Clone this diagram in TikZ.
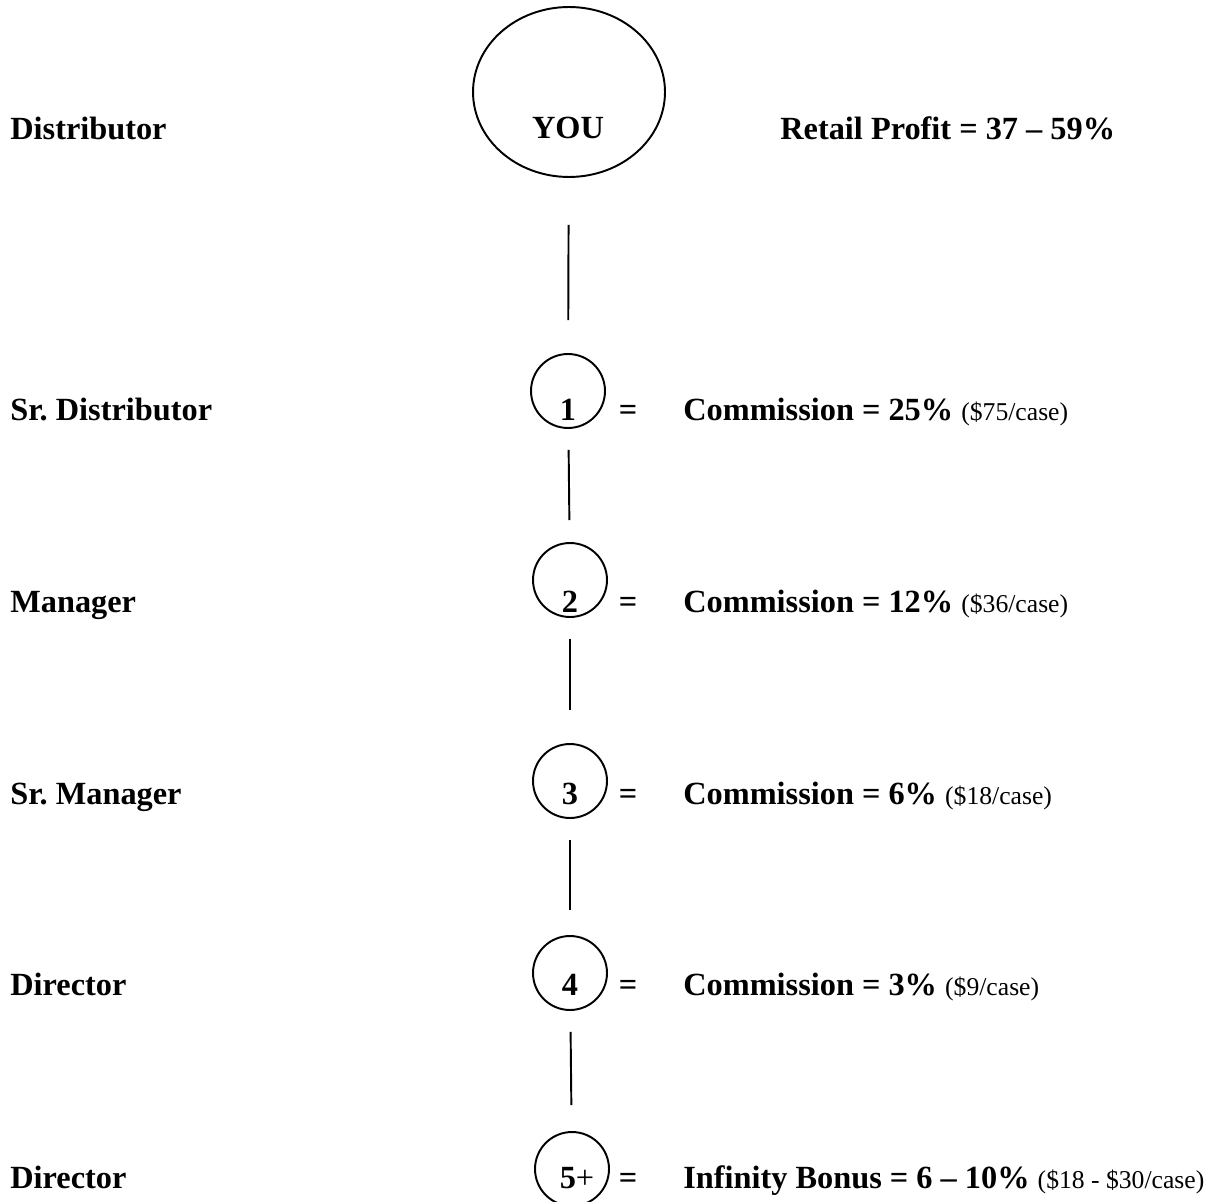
\documentclass[tikz,border=0pt]{standalone}
\usepackage{fontspec}
\setmainfont{Liberation Serif}
\usetikzlibrary{shapes.geometric}
\begin{document}
\frenchspacing
\begin{tikzpicture}[x=0.02cm,y=-0.02cm,
  ring/.style={circle,draw,line width=1.1pt,minimum size=1.48cm,inner sep=0pt},
  big/.style={inner sep=0pt,font=\fontsize{18.4}{22}\selectfont\bfseries},
  rank/.style={big,anchor=base west},
  link/.style={line width=1.1pt,shorten <=0.42cm,shorten >=0.44cm}]
\useasboundingbox (0,0) rectangle (1216,1202);
\newcommand{\case}[1]{{\fontsize{14.6}{17}\selectfont\mdseries(#1)}}
\coordinate (Y) at (569,92);
\coordinate (C1) at (568,391);
\coordinate (C2) at (570,580);
\coordinate (C3) at (570,781);
\coordinate (C4) at (570,973);
\coordinate (C5) at (572,1169);

 \node[ellipse,draw,line width=1.1pt,minimum width=3.84cm,minimum height=3.4cm] (you) at (Y) {};
 \node[ring] (c1) at (C1) {};
 \node[ring] (c2) at (C2) {};
 \node[ring] (c3) at (C3) {};
 \node[ring] (c4) at (C4) {};
 \node[ring] (c5) at (C5) {};

 \node[big,anchor=base] (tyou) at (568,139) {YOU};
 \node[big,anchor=base] (t1) at (568,420) {1};
 \node[big,anchor=base] (t2) at (570,612) {2};
 \node[big,anchor=base] (t3) at (570,804) {3};
 \node[big,anchor=base] (t4) at (570,995) {4};
 \node[big,anchor=base] (t5) at (577,1188) {5\mdseries+};

 \draw[link,shorten <=0.94cm,shorten >=0.66cm] (you) -- (c1);
 \draw[link] (c1) -- (c2);
 \draw[link,shorten >=0.66cm] (c2) -- (c3);
 \draw[link,shorten >=0.5cm] (c3) -- (c4);
 \draw[link,shorten >=0.52cm] (c4) -- (c5);

 \node[rank] (r0) at (10,140) {Distributor};
 \node[rank] (r1) at (10,420) {Sr. Distributor};
 \node[rank] (r2) at (10,612) {Manager};
 \node[rank] (r3) at (10,804) {Sr. Manager};
 \node[rank] (r4) at (10,995) {Director};
 \node[rank] (r5) at (10,1188) {Director};

 \node[rank] (p0) at (780,140) {Retail Profit = 37 -- 59\%};
 \node[big,anchor=base] (e1) at (628,420) {=};
 \node[big,anchor=base] (e2) at (628,612) {=};
 \node[big,anchor=base] (e3) at (628,804) {=};
 \node[big,anchor=base] (e4) at (628,995) {=};
 \node[big,anchor=base] (e5) at (628,1188) {=};
 \node[rank] (p1) at (683,420) {Commission = 25\% \case{\$75/case}};
 \node[rank] (p2) at (683,612) {Commission = 12\% \case{\$36/case}};
 \node[rank] (p3) at (683,804) {Commission = 6\% \case{\$18/case}};
 \node[rank] (p4) at (683,995) {Commission = 3\% \case{\$9/case}};
 \node[rank] (p5) at (683,1188) {Infinity Bonus = 6 -- 10\% \case{\$18 - \$30/case}};

\end{tikzpicture}
\end{document}
